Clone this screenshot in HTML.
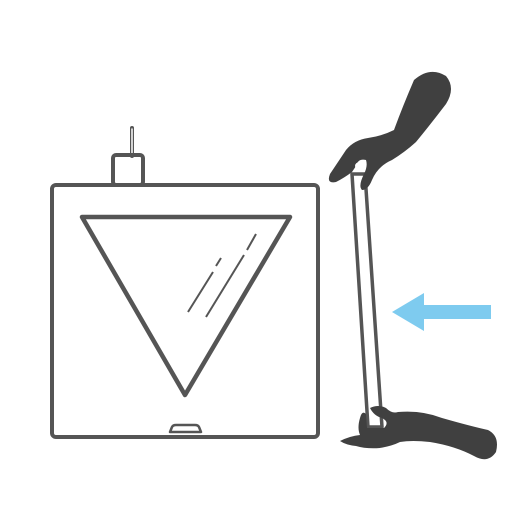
<!DOCTYPE html>
<html><head><meta charset="utf-8"><style>html,body{margin:0;padding:0;background:#fff}svg{display:block}</style></head>
<body>
<svg width="521" height="521" viewBox="0 0 521 521">
<g fill="none" stroke="#555" stroke-linejoin="round" stroke-linecap="round">
  <line x1="132" y1="128" x2="132" y2="156" stroke="#555" stroke-width="4"/>
  <line x1="132" y1="129" x2="132" y2="155" stroke="#fff" stroke-width="1.5"/>
  <rect x="113" y="155" width="30" height="30" rx="3" stroke-width="4"/>
  <rect x="52" y="185" width="266" height="252" rx="4" stroke-width="4" fill="#fff"/>
  <path d="M82 217 L290 217 L185 395 Z" stroke-width="4.5"/>
  <g stroke-width="2" stroke-linecap="butt">
    <line x1="188" y1="312" x2="213" y2="272"/>
    <line x1="216" y1="266" x2="221" y2="258"/>
    <line x1="206" y1="317" x2="244" y2="255"/>
    <line x1="247" y1="250" x2="256" y2="234"/>
  </g>
  <path d="M170 432 L172 427 Q173 425 176 425 L195 425 Q198 425 199 427 L201 432 Z" stroke-width="2.5"/>
</g>
<g fill="#fff" stroke="#555" stroke-width="3.5" stroke-linejoin="round">
  <path d="M352 174 L365 174 L382 427 L368 427 Z"/>
</g>
<g fill="#404040">
  <path d="M414 80 Q430 66 446 76 Q456 88 446 104 Q430 125 416 142 Q405 152 392 160 Q378 166 372 180 Q368 190 362 190 Q358 186 364 174 Q368 166 366 160 Q358 158 356 166 L352 172 Q344 178 336 182 Q326 184 330 174 Q338 162 346 150 Q354 140 368 138 Q382 136 394 130 Q402 108 414 80 Z"/>
  <ellipse cx="360" cy="166" rx="5" ry="4" fill="#fff"/>
</g>
<g fill="#404040">
  <path d="M370 408 Q378 404 386 408 Q392 414 398 412 Q422 410 442 418 Q470 426 488 430 Q500 436 496 452 Q488 464 474 456 Q455 446 430 442 Q412 440 400 442 Q392 446 380 448 Q366 449 356 446 Q346 445 340 441 Q350 436 360 435 Q357 428 360 418 Q362 410 366 414 L367 428 L384 428 Q390 422 382 418 Q374 416 370 408 Z"/>
</g>
<path d="M392 312 L424 293 L424 305 L491 305 L491 319 L424 319 L424 331 Z" fill="#7ecbef"/>
</svg>
</body></html>
